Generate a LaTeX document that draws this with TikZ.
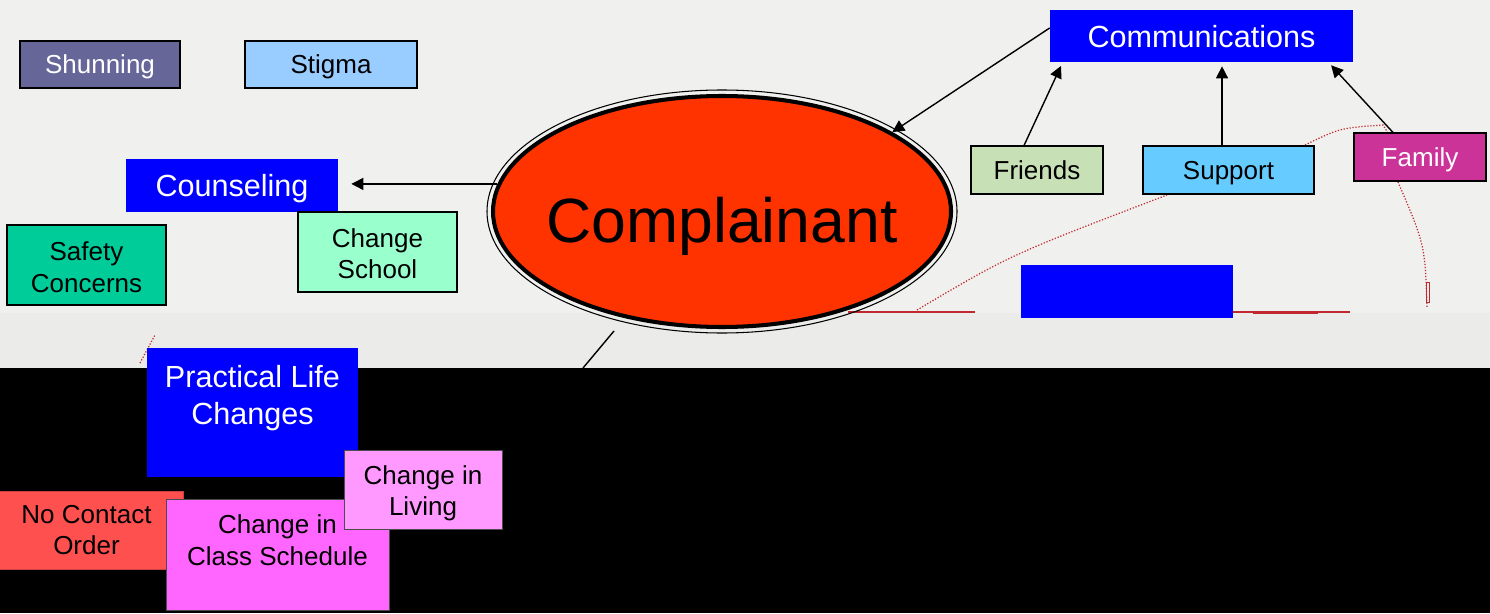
\documentclass[tikz,border=0pt]{standalone}
\usepackage{fontspec}
\setmainfont{Liberation Sans}
\setsansfont{Liberation Sans}
\usetikzlibrary{positioning,arrows.meta,calc,shapes.geometric}
\definecolor{slide}{HTML}{F0F0EE}
\definecolor{strip}{HTML}{EBEBE9}
\definecolor{hubblue}{HTML}{0000FF}
\definecolor{shunc}{HTML}{666699}
\definecolor{stigc}{HTML}{99CCFF}
\definecolor{safec}{HTML}{00CC99}
\definecolor{schoolc}{HTML}{99FFCC}
\definecolor{friendc}{HTML}{C8E0B6}
\definecolor{supportc}{HTML}{66CCFF}
\definecolor{familyc}{HTML}{CC3399}
\definecolor{cmpc}{HTML}{FF3300}
\definecolor{nocontc}{HTML}{FF5050}
\definecolor{classc}{HTML}{FF66FF}
\definecolor{livingc}{HTML}{FF99FF}
\definecolor{scribred}{HTML}{C0282D}
\newcommand\boxsz{\fontsize{14.8}{17.8}\selectfont}
\newcommand\hubsz{\fontsize{17.4}{20.6}\selectfont}
\newcommand\cmpsz{\fontsize{35.6}{40}\selectfont}

\begin{document}
\begin{tikzpicture}[
  font=\sffamily,
  >={Triangle[length=2.4mm,width=2.4mm]},
  box/.style={draw=black,line width=0.6pt,inner sep=0pt,align=center,font=\sffamily\boxsz},
  hub/.style={fill=hubblue,inner sep=0pt,align=center,text=white,font=\sffamily\hubsz},
  onebox/.style={text height=13.6pt,text depth=3.1pt},
  onehub/.style={text height=16.6pt,text depth=3.7pt},
  conn/.style={->,line width=0.8pt},
  scrib/.style={scribred,line width=0.7pt,densely dotted},
  cmp/.style={ellipse,draw=black,fill=cmpc,line width=2.3pt,inner sep=0pt,
              minimum width=9.16cm,minimum height=4.62cm},
]
\useasboundingbox (0,0) rectangle (29.8,12.26);

%=============================================================== BACKGROUND ===
\fill[slide] (0,6.00) rectangle (29.8,12.26);
\fill[strip] (0,4.90) rectangle (29.8,6.00);
\fill[black] (0,0) rectangle (29.8,4.90);

%================================================================= SCRIBBLE ===
\draw[scribred,line width=0.6pt] (16.96,6.02) -- (19.50,6.02);
\draw[scribred,line width=0.6pt] (24.66,6.02) -- (27.00,6.02);
\draw[scribred,line width=1.2pt] (25.06,6.01) -- (26.36,6.01);
\draw[scrib] (18.34,6.06) .. controls (20.20,7.16) .. (23.34,8.36);
\draw[scrib] (26.10,9.36) .. controls (26.80,9.70) .. (27.66,9.76) -- (27.76,9.60);
\draw[scrib] (27.96,8.62) .. controls (28.50,7.36) .. (28.54,6.10);
\draw[scribred,line width=0.5pt] (28.52,6.22) rectangle (28.58,6.62);
\draw[scrib] (2.80,5.00) -- (3.10,5.56);

%=================================================================== CENTRE ===
\coordinate (tailtop) at (12.28,5.64);
\coordinate (tailend) at (11.66,4.90);
\draw[line width=0.8pt] (tailtop) -- (tailend);

\node[cmp] (cmp) at (14.44,8.03) {};
\draw[line width=0.6pt] (cmp.center) ellipse [x radius=4.70cm, y radius=2.43cm];
\node[font=\sffamily\cmpsz,inner sep=0pt] (cmptxt) at ([yshift=-3mm]cmp.center) {Complainant};

%================================================================ LEFT SIDE ===
\node[box,onebox,fill=shunc,text=white,minimum width=3.2cm,minimum height=0.94cm] (shun) at (2.00,10.97) {Shunning};
\node[box,onebox,fill=stigc,minimum width=3.44cm,minimum height=0.94cm] (stig) at (6.62,10.97) {Stigma};
\node[hub,onehub,minimum width=4.24cm,minimum height=1.06cm] (csl) at (4.64,8.55) {Counseling};
\node[box,fill=safec,minimum width=3.18cm,minimum height=1.6cm] (safe) at (1.73,6.96) {\rule{0pt}{4.6mm}Safety\\Concerns};
\node[box,fill=schoolc,minimum width=3.18cm,minimum height=1.6cm] (school) at (7.55,7.22) {\rule{0pt}{4.4mm}Change\\School};

\draw[conn] (cmp.173) -- ([xshift=2.6mm]csl.east |- cmp.173);

%=============================================================== RIGHT SIDE ===
\node[hub,onehub,minimum width=6.06cm,minimum height=1.04cm] (comm) at (24.03,11.54) {Communications};
\node[box,onebox,fill=friendc,minimum width=2.64cm,minimum height=0.96cm] (frd) at (20.74,8.86) {Friends};
\node[box,onebox,fill=supportc,minimum width=3.42cm,minimum height=0.96cm] (spt) at (24.57,8.86) {Support};
\node[box,onebox,fill=familyc,text=white,minimum width=2.64cm,minimum height=0.96cm] (fam) at (28.40,9.12) {Family};
\node[fill=hubblue,minimum width=4.24cm,minimum height=1.06cm] (blank) at (22.54,6.43) {};

\draw[conn] ([yshift=1.6mm]comm.west) -- (cmp.25);
\draw[conn,shorten >=0.8mm] ([xshift=-2.6mm]frd.north) -- ([xshift=2.6mm]comm.south west);
\draw[conn,shorten >=0.8mm] ([xshift=-1.3mm]spt.north) -- ([xshift=-1.3mm]spt.north |- comm.south);
\draw[conn,shorten >=0.8mm] ([xshift=-5.4mm]fam.north) -- ([xshift=-5mm]comm.south east);

%=================================================================== BOTTOM ===
\node[hub,minimum width=4.22cm,minimum height=2.58cm] (plc) at (5.05,4.01) {Practical Life\\Changes\\[-2.4mm]\strut};
\node[box,draw=nocontc!80!black,line width=0.4pt,fill=nocontc,minimum width=3.86cm,minimum height=1.56cm] (noc) at (1.73,1.66) {No Contact\\Order};
\node[box,draw=black!70,line width=0.5pt,fill=classc,minimum width=4.46cm,minimum height=2.22cm] (cls) at (5.55,1.17) {Change in\\Class Schedule\\[-2.4mm]\strut};
\node[box,draw=black!70,line width=0.5pt,fill=livingc,minimum width=3.16cm,minimum height=1.58cm] (liv) at (8.46,2.47) {\rule{0pt}{5.4mm}Change in\\Living};

\end{tikzpicture}
\end{document}
